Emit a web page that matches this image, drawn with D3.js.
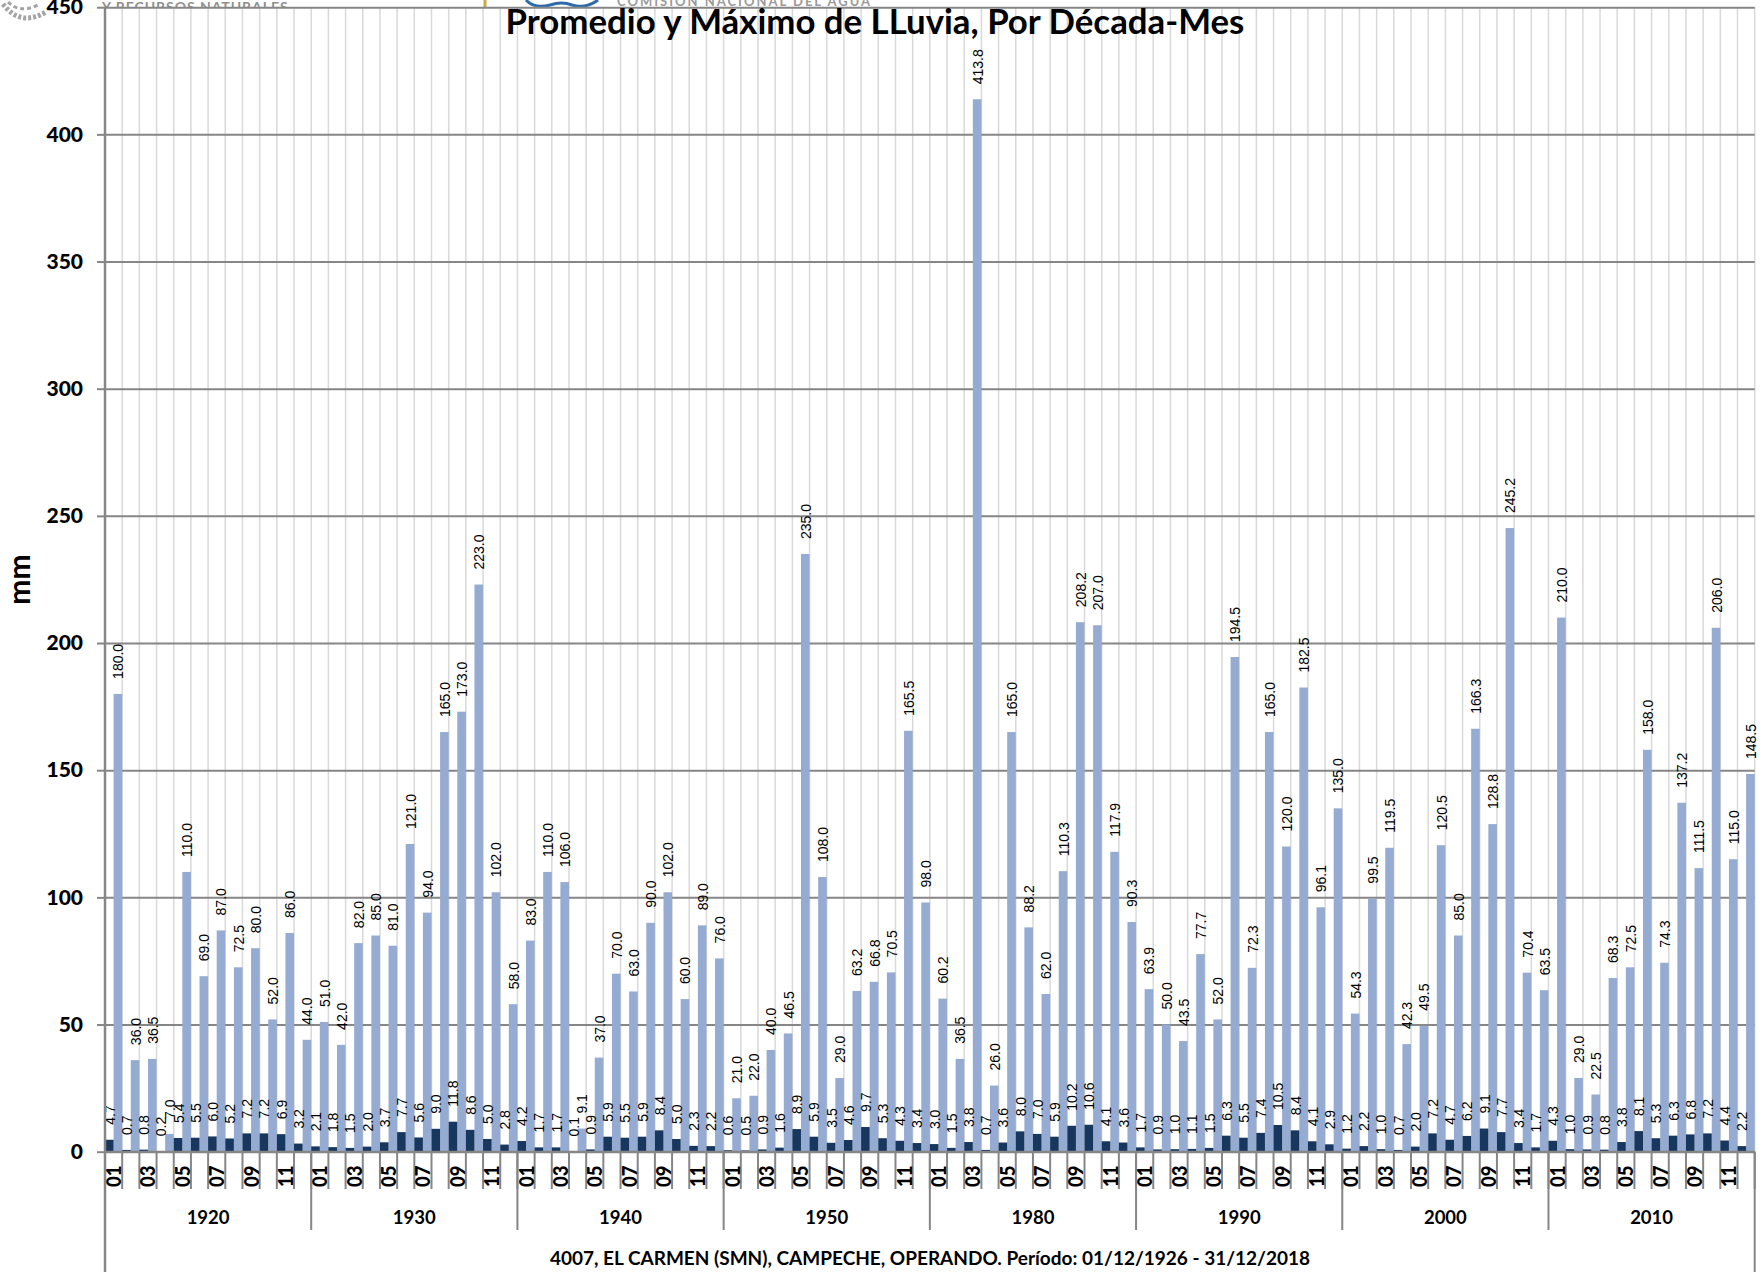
<!DOCTYPE html>
<html>
<head>
<meta charset="utf-8">
<script src="https://cdnjs.cloudflare.com/ajax/libs/d3/7.8.5/d3.min.js"></script>
<style>
  html, body { margin: 0; padding: 0; background: #fff; }
  svg { display: block; }
  text { font-family: Lato, "Open Sans", sans-serif; fill: #000; }
</style>
</head>
<body>
<svg id="visualisation" width="1762" height="1272"></svg>
<script>
var decades = ["1920", "1930", "1940", "1950", "1980", "1990", "2000", "2010"];
var months = ["01", "02", "03", "04", "05", "06", "07", "08", "09", "10", "11", "12"];
var yTicks = [0, 50, 100, 150, 200, 250, 300, 350, 400, 450];

var promedio = [
  4.7, 0.7, 0.8, 0.2, 5.4, 5.5, 6.0, 5.2, 7.2, 7.2, 6.9, 3.2,
  2.1, 1.8, 1.5, 2.0, 3.7, 7.7, 5.6, 9.0, 11.8, 8.6, 5.0, 2.8,
  4.2, 1.7, 1.7, 0.1, 0.9, 5.9, 5.5, 5.9, 8.4, 5.0, 2.3, 2.2,
  0.6, 0.5, 0.9, 1.6, 8.9, 5.9, 3.5, 4.6, 9.7, 5.3, 4.3, 3.4,
  3.0, 1.5, 3.8, 0.7, 3.6, 8.0, 7.0, 5.9, 10.2, 10.6, 4.1, 3.6,
  1.7, 0.9, 1.0, 1.1, 1.5, 6.3, 5.5, 7.4, 10.5, 8.4, 4.1, 2.9,
  1.2, 2.2, 1.0, 0.7, 2.0, 7.2, 4.7, 6.2, 9.1, 7.7, 3.4, 1.7,
  4.3, 1.0, 0.9, 0.8, 3.8, 8.1, 5.3, 6.3, 6.8, 7.2, 4.4, 2.2
];
var maximo = [
  180.0, 36.0, 36.5, 7.0, 110.0, 69.0, 87.0, 72.5, 80.0, 52.0, 86.0, 44.0,
  51.0, 42.0, 82.0, 85.0, 81.0, 121.0, 94.0, 165.0, 173.0, 223.0, 102.0, 58.0,
  83.0, 110.0, 106.0, 9.1, 37.0, 70.0, 63.0, 90.0, 102.0, 60.0, 89.0, 76.0,
  21.0, 22.0, 40.0, 46.5, 235.0, 108.0, 29.0, 63.2, 66.8, 70.5, 165.5, 98.0,
  60.2, 36.5, 413.8, 26.0, 165.0, 88.2, 62.0, 110.3, 208.2, 207.0, 117.9, 90.3,
  63.9, 50.0, 43.5, 77.7, 52.0, 194.5, 72.3, 165.0, 120.0, 182.5, 96.1, 135.0,
  54.3, 99.5, 119.5, 42.3, 49.5, 120.5, 85.0, 166.3, 128.8, 245.2, 70.4, 63.5,
  210.0, 29.0, 22.5, 68.3, 72.5, 158.0, 74.3, 137.2, 111.5, 206.0, 115.0, 148.5
];

var title = "Promedio y Máximo de LLuvia, Por Década-Mes";
var footer = "4007, EL CARMEN (SMN), CAMPECHE, OPERANDO. Período: 01/12/1926 - 31/12/2018";

var LEFT = 105, RIGHT = 1754.7, TOP = 7.2, ZERO = 1151.7;
var GRID_DARK = "#868686", GRID_LIGHT = "#d9d9d9";
var COLOR_MAX = "#95abd2", COLOR_MEAN = "#17375e";

var vis = d3.select("#visualisation");

// one row per decade-month
var rows = [];
decades.forEach(function (dec, di) {
  months.forEach(function (m, mi) {
    var i = di * months.length + mi;
    rows.push({key: dec + "-" + m, dec: dec, mon: m, mean: promedio[i], max: maximo[i]});
  });
});

var xRange = d3.scaleBand().domain(rows.map(function (d) { return d.key; })).range([LEFT, RIGHT]);
var xInner = d3.scaleBand().domain(["mean", "max"]).range([0, xRange.bandwidth()]);
var xDecade = d3.scaleBand().domain(decades).range([LEFT, RIGHT]);
var yRange = d3.scaleLinear().domain([0, 450]).range([ZERO, TOP]);

// header remains cut by the top of the page and by the plot
vis.append("clipPath").attr("id", "topStrip").append("rect")
  .attr("x", 0).attr("y", 0).attr("width", 1762).attr("height", TOP);
var header = vis.append("g").attr("class", "header").attr("clip-path", "url(#topStrip)");
header.append("text").attr("x", 102).attr("y", 12)
  .attr("font-size", 14).attr("font-weight", 700).attr("letter-spacing", 0.95)
  .style("fill", "#8f8f8f").text("Y RECURSOS NATURALES");
header.append("text").attr("x", 617).attr("y", 5.5)
  .attr("font-size", 13).attr("font-weight", 700).attr("letter-spacing", 2.0)
  .style("fill", "#9a9a9a").text("COMISIÓN NACIONAL DEL AGUA");
header.append("rect").attr("x", 483.5).attr("y", 0).attr("width", 3).attr("height", 7).attr("fill", "#c9a94a");
header.append("path").attr("d", "M526,0 Q534,9 550,5 Q562,1 572,5 Q586,9 598,0")
  .attr("fill", "none").attr("stroke", "#2f6aa8").attr("stroke-width", 3);

// seal, mostly outside the page
var seal = vis.append("g").attr("class", "seal").attr("fill", "none").attr("stroke", "#a4a4a4");
seal.append("path").attr("d", "M3,4 Q20,27 46,12").attr("stroke-width", 5).attr("stroke-dasharray", "3 2");
seal.append("path").attr("d", "M8,2 Q20,14 38,5").attr("stroke-width", 3).attr("stroke-dasharray", "4 3");

// vertical month gridlines
var tickEdges = rows.map(function (d) { return xRange(d.key); }).concat([RIGHT]);
vis.append("g").attr("class", "grid-v").selectAll("line").data(tickEdges).enter().append("line")
  .attr("x1", function (d) { return d; }).attr("x2", function (d) { return d; })
  .attr("y1", TOP).attr("y2", ZERO)
  .attr("stroke", GRID_LIGHT).attr("stroke-width", 1.5);

// horizontal gridlines
var yGrid = d3.axisLeft(yRange).tickValues(yTicks).tickSize(-(RIGHT - LEFT)).tickFormat("");
vis.append("g").attr("class", "grid-h").attr("transform", "translate(" + LEFT + ",0)").call(yGrid)
  .call(function (g) { g.select(".domain").remove(); })
  .selectAll("line").attr("stroke", GRID_DARK).attr("stroke-width", 2);

// bars
vis.append("g").attr("class", "bars-max").selectAll("rect").data(rows).enter().append("rect")
  .attr("x", function (d) { return xRange(d.key) + xInner("max"); })
  .attr("y", function (d) { return yRange(d.max); })
  .attr("width", xInner.bandwidth())
  .attr("height", function (d) { return ZERO - yRange(d.max); })
  .attr("fill", COLOR_MAX);
vis.append("g").attr("class", "bars-mean").selectAll("rect").data(rows).enter().append("rect")
  .attr("x", function (d) { return xRange(d.key) + xInner("mean"); })
  .attr("y", function (d) { return yRange(d.mean); })
  .attr("width", xInner.bandwidth())
  .attr("height", function (d) { return ZERO - yRange(d.mean); })
  .attr("fill", COLOR_MEAN);

// rotated value labels
function addLabels(cls, field) {
  vis.append("g").attr("class", cls).selectAll("text").data(rows).enter().append("text")
    .attr("transform", function (d) {
      var x = xRange(d.key) + xInner(field) + xInner.bandwidth() / 2;
      return "translate(" + (x + 5.5) + "," + (yRange(d[field]) - 15) + ") rotate(-90)";
    })
    .attr("font-size", 14)
    .style("font-family", "'Liberation Sans', sans-serif")
    .text(function (d) { return d[field].toFixed(1); });
}
addLabels("labels-mean", "mean");
addLabels("labels-max", "max");

// y axis
var yAxis = d3.axisLeft(yRange).tickValues(yTicks).tickSize(8).tickPadding(14);
var yG = vis.append("g").attr("class", "y-axis").attr("transform", "translate(" + LEFT + ",0)").call(yAxis);
yG.selectAll("line").attr("stroke", GRID_DARK).attr("stroke-width", 2);
yG.select(".domain").remove();
yG.selectAll("text").attr("font-size", 21).attr("font-weight", 900)
  .style("font-family", "Lato, sans-serif");

vis.append("text")
  .attr("transform", "translate(30,579.5) rotate(-90)")
  .attr("text-anchor", "middle").attr("font-size", 30).attr("font-weight", 700).text("mm");

// month ticks and labels
var ticks = vis.append("g").attr("class", "x-ticks");
ticks.selectAll("line").data(tickEdges).enter().append("line")
  .attr("x1", function (d) { return d; }).attr("x2", function (d) { return d; })
  .attr("y1", ZERO).attr("y2", 1189)
  .attr("stroke", GRID_DARK).attr("stroke-width", 2);
ticks.selectAll("text").data(rows.filter(function (d, i) { return i % 2 === 0; })).enter().append("text")
  .attr("transform", function (d) {
    return "translate(" + (xRange(d.key) + xRange.bandwidth() / 2 + 7.5) + ",1187) rotate(-90) scale(0.88,1)";
  })
  .attr("font-size", 21).attr("font-weight", 900)
  .text(function (d) { return d.mon; });

// decade separators and labels
var decadeEdges = decades.map(function (d) { return xDecade(d); }).concat([RIGHT]);
vis.append("g").attr("class", "x-decades").selectAll("line").data(decadeEdges).enter().append("line")
  .attr("x1", function (d) { return d; }).attr("x2", function (d) { return d; })
  .attr("y1", TOP)
  .attr("y2", function (d, i) { return (i === 0 || i === decades.length) ? 1272 : 1230; })
  .attr("stroke", GRID_DARK)
  .attr("stroke-width", function (d, i) { return i === 0 ? 2.5 : 2; })
  .attr("stroke-dasharray", function (d, i) {
    // inner separators and the right edge only show below the baseline
    return i === 0 ? null : "0 " + (ZERO - TOP) + " 2000";
  });
vis.append("g").attr("class", "x-decade-labels").selectAll("text").data(decades).enter().append("text")
  .attr("x", function (d) { return xDecade(d) + xDecade.bandwidth() / 2; })
  .attr("y", 1224)
  .attr("text-anchor", "middle").attr("font-size", 18.5).attr("font-weight", 700)
  .text(function (d) { return d; });

vis.append("line").attr("class", "baseline")
  .attr("x1", LEFT).attr("x2", RIGHT).attr("y1", ZERO).attr("y2", ZERO)
  .attr("stroke", GRID_DARK).attr("stroke-width", 2);

vis.append("text").attr("x", 930).attr("y", 1264.5)
  .attr("text-anchor", "middle").attr("font-size", 19).attr("font-weight", 700).text(footer);

vis.append("text").attr("x", 875).attr("y", 34)
  .attr("text-anchor", "middle").attr("font-size", 34.8).attr("font-weight", 700).text(title);
</script>
</body>
</html>
